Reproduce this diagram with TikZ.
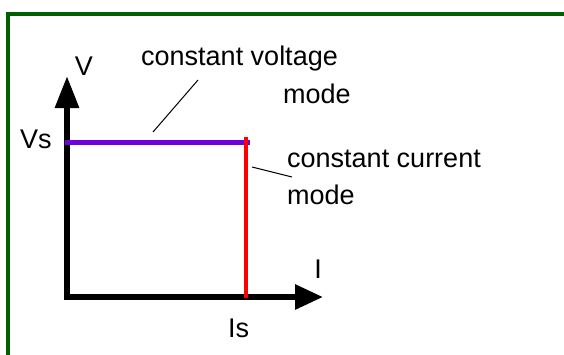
\documentclass[tikz,border=0pt]{standalone}
\usepackage{fontspec}
\setmainfont{Liberation Sans}
\usetikzlibrary{arrows.meta}
\definecolor{framegreen}{RGB}{0,96,0}
\definecolor{cvpurple}{RGB}{110,0,220}

\begin{document}
\begin{tikzpicture}[x=1pt,y=-1pt,
    lbl/.style={font=\fontsize{27}{32}\selectfont, inner sep=0pt, anchor=base west},
    axis/.style={line width=6pt, {Triangle[length=32pt,width=23pt]}-{Triangle[length=28pt,width=24pt]}},
    leader/.style={line width=1pt}]
    \useasboundingbox (0,0) rectangle (564,354);
    \draw[framegreen, line width=4pt] (8,358) |- (568,14);
    \coordinate (O) at (67,297);
    \coordinate (ytip) at (67,76);
    \coordinate (xtip) at (323,297);
    \coordinate (vs) at (65,142);
    \coordinate (knee) at (250,142);
    \coordinate (kneetop) at (246,137);
    \coordinate (is) at (246,298);
    \draw[axis] (ytip) -- (O) -- (xtip);
    \draw[cvpurple, line width=5pt] (vs) -- (knee);
    \draw[red, line width=4pt] (kneetop) -- (is);
    \node[lbl, anchor=base] (vlab) at (84,75) {V};
    \node[lbl] (vslab) at (20,148) {Vs};
    \node[lbl] (cvlab) at (141,65) {constant voltage};
    \node[lbl] (cvmode) at (283,103) {mode};
    \node[lbl] (cclab) at (287,167) {constant current};
    \node[lbl] (ccmode) at (287,204) {mode};
    \node[lbl, anchor=base] (ilab) at (318,278) {I};
    \node[lbl] (islab) at (228,337) {Is};
    \coordinate (cvfrom) at (198,80);
    \coordinate (cvto) at (153,132);
    \coordinate (ccfrom) at (252,167);
    \coordinate (ccto) at (292,177);
    \draw[leader] (cvfrom) -- (cvto);
    \draw[leader] (ccfrom) -- (ccto);
\end{tikzpicture}
\end{document}
